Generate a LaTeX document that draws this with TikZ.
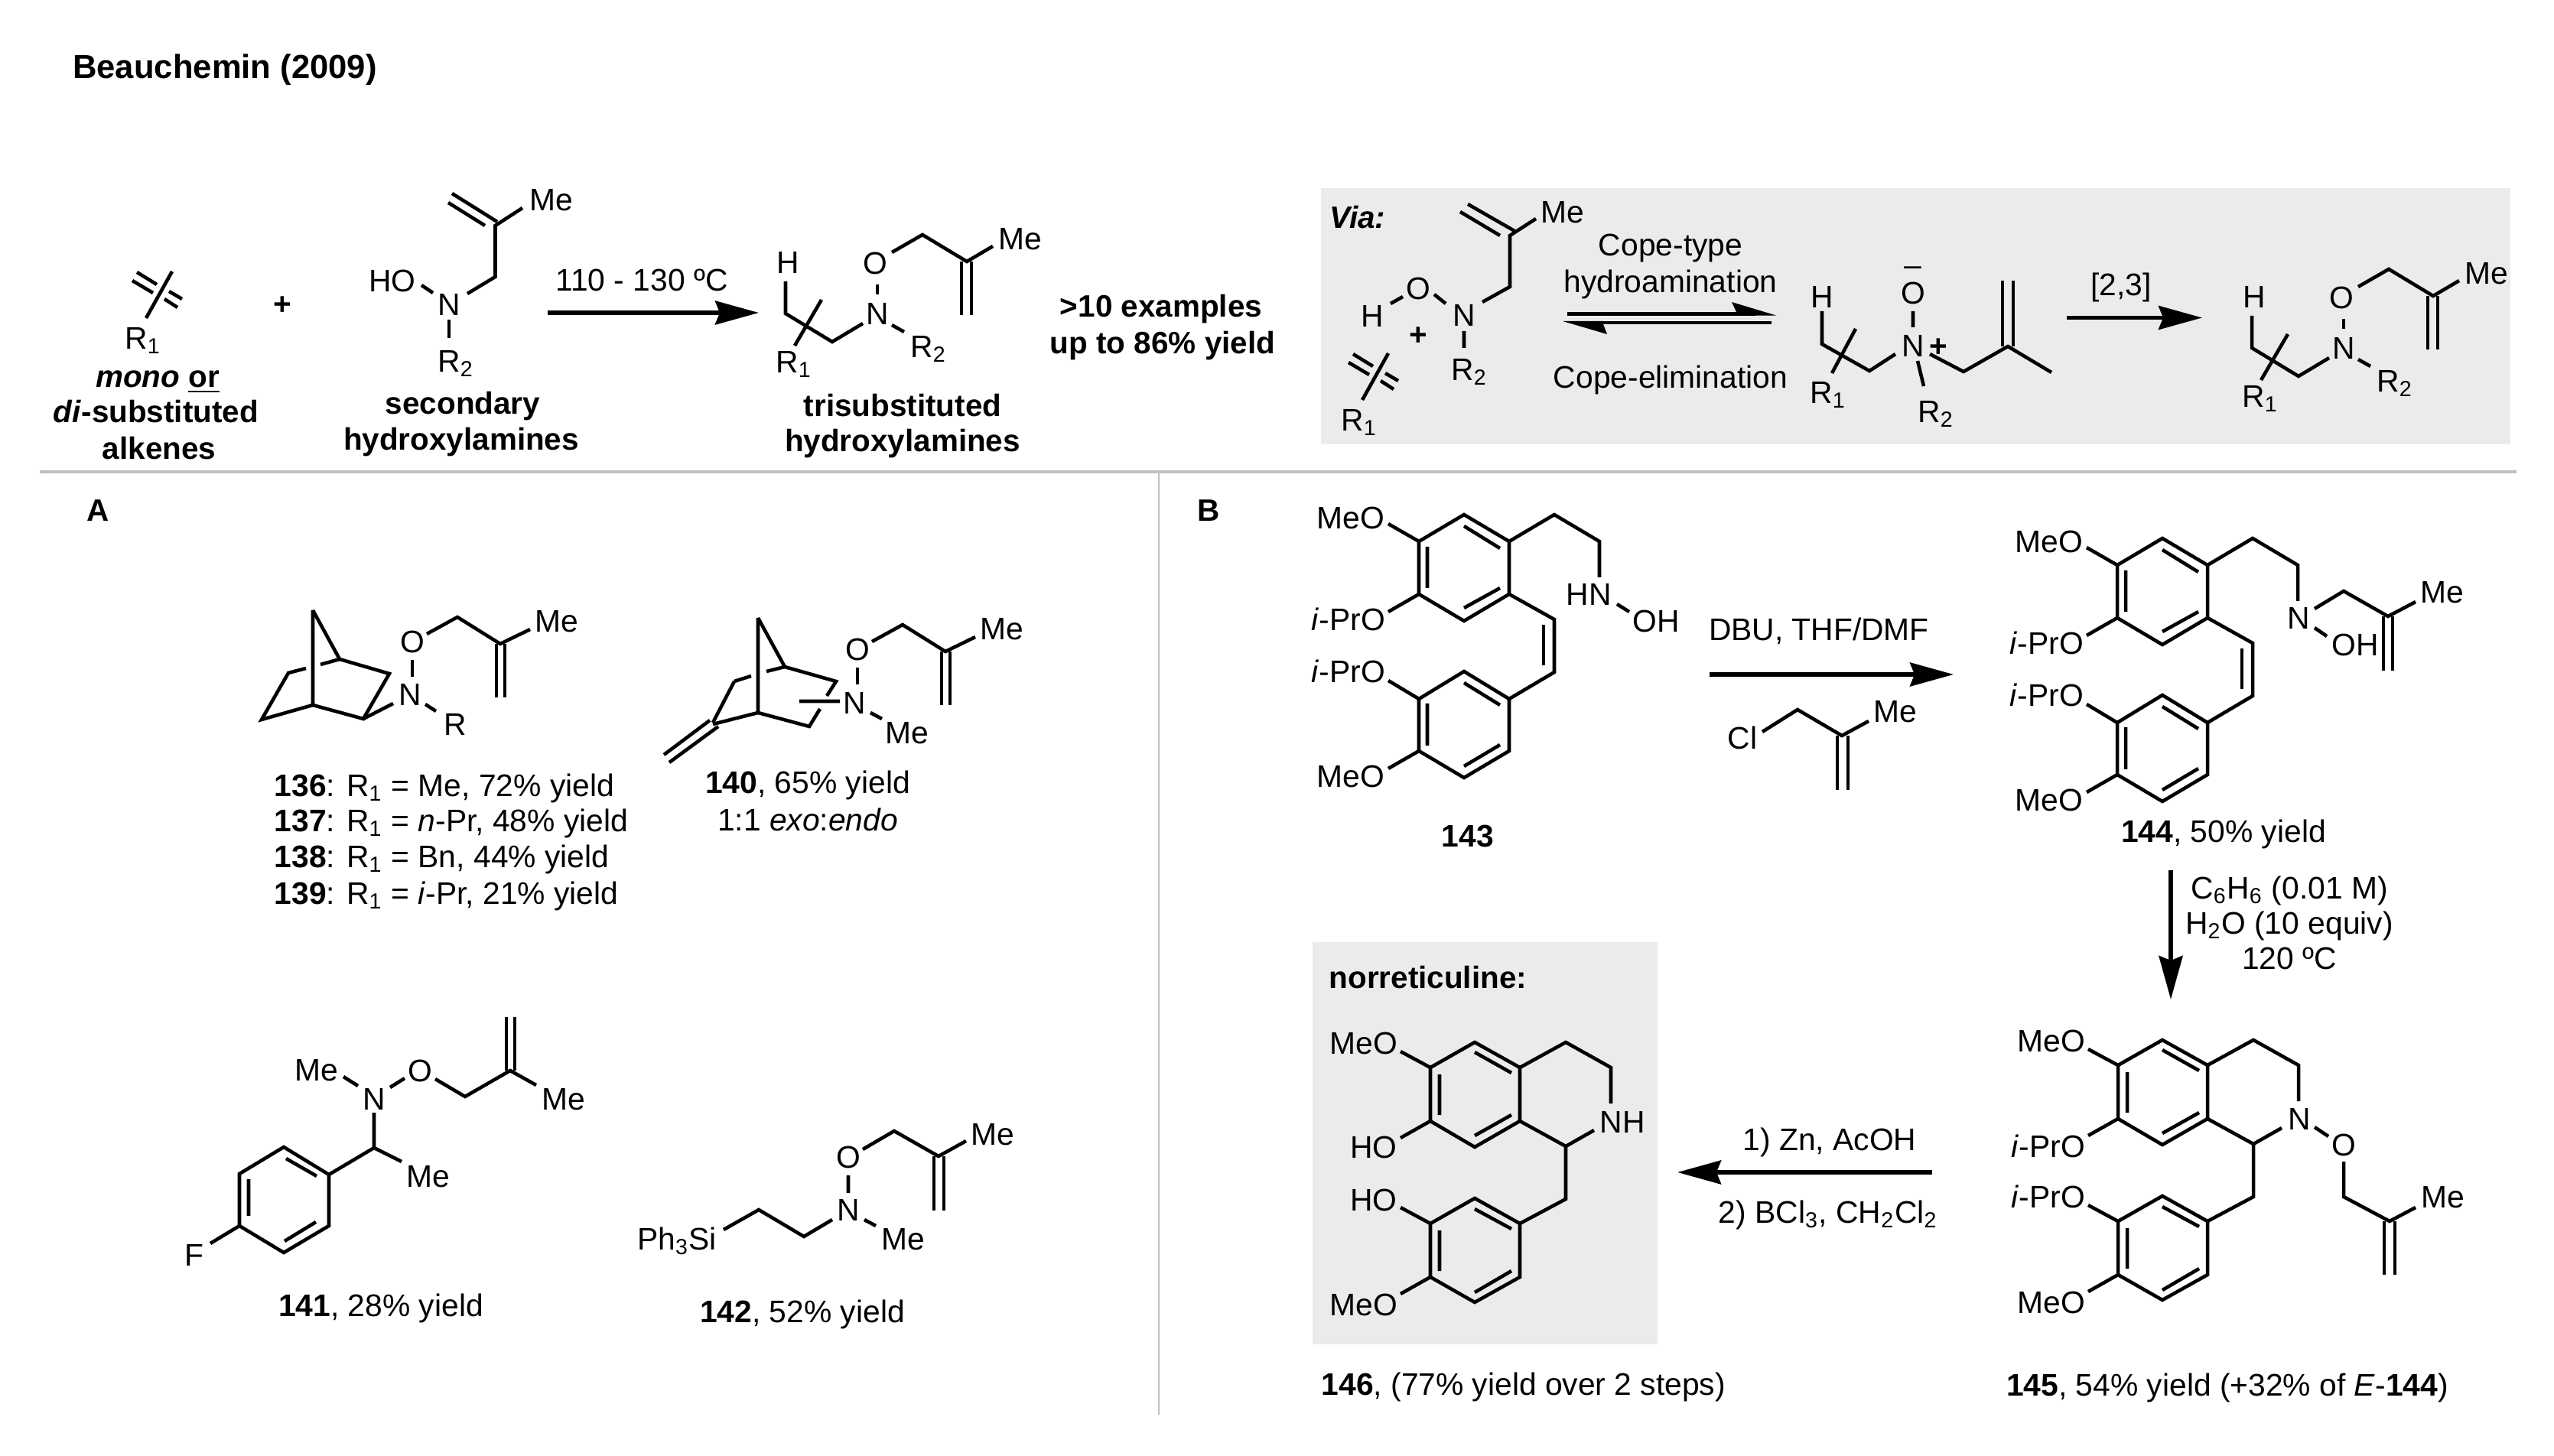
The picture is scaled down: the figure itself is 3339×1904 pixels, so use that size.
\documentclass[tikz,border=0pt]{standalone}
\usepackage{fontspec}
\setmainfont{Liberation Sans}
\usetikzlibrary{arrows.meta}
\definecolor{panelgray}{HTML}{EBEBEB}
\definecolor{rulegray}{HTML}{BFBFBF}
\tikzset{
    bond/.style={line width=1.3pt},
    lab/.style={inner sep=0pt, text height=8.3pt, text depth=0pt, font=\fontsize{11.6}{14}\selectfont},
    captxt/.style={inner sep=0pt, text height=8.3pt, text depth=0pt, font=\fontsize{11.5}{14}\selectfont},
    rxn/.style={line width=1.5pt, -{Stealth[length=16.2pt,width=8.8pt,inset=1.7pt]}},
}
% alkene with crossing bond
\newcommand{\crossalkene}{
    \draw[bond] (225,355) -- (191,416);
    \draw[bond] (179,356) -- (205,372) (173,367) -- (200,383);
    \draw[bond] (221,381) -- (238,391) (215,391) -- (232,402);
    \node[lab] (rone) at (187,442) {R\textsubscript{1}};
}
% trisubstituted hydroxylamine
\newcommand{\trisub}{
    \node[lab] (h) at (1030,343) {H};
    \node[lab] (n) at (1147,410) {N};
    \node[lab] (o) at (1144,344) {O};
    \node[lab] (me) at (1334,312) {Me};
    \node[lab] (rone) at (1038,473) {R\textsubscript{1}};
    \node[lab] (rtwo) at (1214,453) {R\textsubscript{2}};
    \draw[bond] (1027,368) -- (1027,410) -- (1088,447) -- (1128,423);
    \draw[bond] (1074,392) -- (1039,452);
    \draw[bond] (1147,372) -- (1147,385);
    \draw[bond] (1166,330) -- (1206,307) -- (1264,342) -- (1298,322);
    \draw[bond] (1257,342) -- (1257,412) (1270,342) -- (1270,412);
    \draw[bond] (1166,425) -- (1182,434);
}
% O-methallyl on the norbornane
\newcommand{\oallyl}{
    \node[lab] (o) at (539,839) {O};
    \node[lab] (me) at (728,812) {Me};
    \draw[bond] (539,863) -- (539,885);
    \draw[bond] (558,829) -- (598,807) -- (654,842) -- (693,823);
    \draw[bond] (649,842) -- (649,912) (660,842) -- (660,912);
}
% stilbene part of 143 and 144
\newcommand{\stilbene}{
    \draw[bond] (1914,673) -- (1973,708) -- (1973,777) -- (1914,812) -- (1855,777) -- (1855,708) -- cycle;
    \draw[bond] (1914,688) -- (1961,717) (1866,715) -- (1866,769) (1914,795) -- (1961,769);
    \draw[bond] (1973,708) -- (2032,673) -- (2091,708) -- (2091,755);
    \draw[bond] (1973,777) -- (2032,810) -- (2032,879) -- (1973,914);
    \draw[bond] (2018,817) -- (2018,870);
    \draw[bond] (1914,878) -- (1973,914) -- (1973,982) -- (1914,1017) -- (1855,982) -- (1855,914) -- cycle;
    \draw[bond] (1914,893) -- (1961,922) (1866,920) -- (1866,975) (1914,1002) -- (1961,974);
    \draw[bond] (1815,685) -- (1855,708) (1815,800) -- (1855,777);
    \draw[bond] (1815,890) -- (1855,914) (1815,1005) -- (1855,982);
    \node[lab] (meotop) at (1766,677) {MeO};
    \node[lab] (ipra) at (1763,810) {\textit{i}-PrO};
    \node[lab] (iprb) at (1763,878) {\textit{i}-PrO};
    \node[lab] (meobot) at (1766,1015) {MeO};
}
% benzylisoquinoline part of 145 and 146
\newcommand{\isoq}{
    \draw[bond] (2827,1360) -- (2886,1393) -- (2886,1463) -- (2827,1497) -- (2769,1463) -- (2769,1393) -- cycle;
    \draw[bond] (2827,1373) -- (2875,1400) (2781,1402) -- (2781,1455) (2827,1482) -- (2875,1455);
    \draw[bond] (2886,1393) -- (2946,1360) -- (3005,1393) -- (3005,1440);
    \draw[bond] (2886,1463) -- (2946,1496) -- (2983,1475);
    \draw[bond] (2946,1496) -- (2946,1565) -- (2886,1597);
    \draw[bond] (2827,1564) -- (2886,1597) -- (2886,1667) -- (2827,1700) -- (2769,1667) -- (2769,1597) -- cycle;
    \draw[bond] (2827,1578) -- (2875,1604) (2781,1606) -- (2781,1659) (2827,1687) -- (2875,1659);
    \draw[bond] (2730,1372) -- (2769,1393) (2730,1485) -- (2769,1463);
    \draw[bond] (2730,1576) -- (2769,1597) (2730,1689) -- (2769,1667);
    \node[lab] (meotop) at (2682,1361) {MeO};
    \node[lab] (meobot) at (2682,1703) {MeO};
}
\begin{document}
\begin{tikzpicture}[x=0.01cm,y=-0.01cm]
    \useasboundingbox (0,0) rectangle (3339,1904);
    \fill[white] (0,0) rectangle (3339,1904);
    \node[captxt] (title) at (294,88) {\fontsize{12.4}{14}\selectfont\textbf{Beauchemin (2009)}};

    % panels and rules
    \fill[panelgray] (1727,246) rectangle (3282,581);
    \fill[panelgray] (1716,1232) rectangle (2167,1758);
    \draw[rulegray,line width=1.3pt] (52,617) -- (3290,617);
    \draw[rulegray,line width=0.8pt] (1515,617) -- (1515,1850);

    % top reaction
    \crossalkene
    \node[captxt] (plus) at (369,397) {\textbf{+}};
    \node[lab] (meA) at (721,261) {Me};
    \node[lab] (hoA) at (513,367) {HO};
    \node[lab] (nA) at (587,398) {N};
    \node[lab] (rtwoA) at (596,472) {R\textsubscript{2}};
    \draw[bond] (650,290) -- (591,253) (634,295) -- (586,265);
    \draw[bond] (683,272) -- (647.5,295) -- (647.5,362) -- (611,384);
    \draw[bond] (551,373) -- (566,383);
    \draw[bond] (587,418) -- (587,442);
    \coordinate (topS) at (716,409);
    \coordinate (topE) at (992,409);
    \draw[rxn] (topS) -- (topE);
    \node[lab] (temp) at (839,366) {110 - 130 ºC};
    \trisub
    \node[captxt] (ex) at (1518,400) {\textbf{>10 examples}};
    \node[captxt] (up) at (1520,448) {\textbf{up to 86\% yield}};
    % captions of the top line
    \node[captxt] (monoor) at (206,492) {\textbf{\textit{mono} \underline{or}}};
    \node[captxt] (disub) at (204,538) {\textbf{\textit{di}-substituted}};
    \node[captxt] (alk) at (208,586) {\textbf{alkenes}};
    \node[captxt] (sec) at (605,527) {\textbf{secondary}};
    \node[captxt] (hydA) at (603,574) {\textbf{hydroxylamines}};
    \node[captxt] (tri) at (1180,530) {\textbf{trisubstituted}};
    \node[captxt] (hydB) at (1180,576) {\textbf{hydroxylamines}};

    % via panel
    \node[captxt] (via) at (1775,284) {\textbf{\textit{Via:}}};
    \begin{scope}[shift={(1590,107)},name prefix=via-]
        \crossalkene
    \end{scope}
    \node[lab] (meV) at (2043,277) {Me};
    \node[lab] (oV) at (1854,377) {O};
    \node[lab] (hV) at (1794,413) {H};
    \node[lab] (nV) at (1914,412) {N};
    \node[lab] (rtwoV) at (1921,483) {R\textsubscript{2}};
    \node[captxt] (plusV) at (1854,437) {\textbf{+}};
    \draw[bond] (1980,302) -- (1919,267) (1961,308) -- (1909,277);
    \draw[bond] (2008,286) -- (1974,308) -- (1974,375) -- (1938,395);
    \draw[bond] (1818,397) -- (1834,388) (1875,385) -- (1890,397) (1914,433) -- (1914,455);
    \node[lab] (cope) at (2184,320) {Cope-type};
    \node[lab] (hydroam) at (2184,368) {hydroamination};
    \node[lab] (copeel) at (2184,493) {Cope-elimination};
    % equilibrium arrows
    \draw[line width=1.5pt] (2049,410.5) -- (2280,410.5);
    \fill (2322,412.5) -- (2264,395) -- (2270,408) -- (2270,413) -- cycle;
    \draw[line width=1.2pt] (2085,422) -- (2316,422);
    \fill (2043,420) -- (2101,437) -- (2096,424) -- (2096,420) -- cycle;
    % middle intermediate
    \node[lab] (hM) at (2382,388) {H};
    \node[lab] (minusM) at (2501,346) {--};
    \node[lab] (oM) at (2501,383) {O};
    \node[lab] (nM) at (2501,452) {N};
    \node[captxt] (plusM) at (2534,452) {\textbf{+}};
    \node[lab] (roneM) at (2390,513) {R\textsubscript{1}};
    \node[lab] (rtwoM) at (2531,538) {R\textsubscript{2}};
    \draw[bond] (2382,407) -- (2382,450) -- (2444,485) -- (2478,463);
    \draw[bond] (2426,430) -- (2395,488);
    \draw[bond] (2501,407) -- (2501,428) (2507,472) -- (2515,505);
    \draw[bond] (2523,463) -- (2567,486) -- (2625,453) -- (2682,487);
    \draw[bond] (2618,453) -- (2618,367) (2632,453) -- (2632,367);
    \node[lab] (sig) at (2773,372) {[2,3]};
    \coordinate (sigS) at (2702,415.5);
    \coordinate (sigE) at (2879,415.5);
    \draw[rxn] (sigS) -- (sigE);
    \begin{scope}[shift={(1917,45)},name prefix=prod-]
        \trisub
    \end{scope}

    % section A
    \node[captxt] (secA) at (128,667) {\textbf{A}};
    % 136
    \draw[bond] (409,798) -- (409,922) -- (342,941) -- (377,880) -- (400,874);
    \draw[bond] (419,869) -- (444,862);
    \draw[bond] (409,798) -- (444,862) -- (509,881) -- (475,940) -- (409,922);
    \draw[bond] (475,940) -- (514,920) (556,921) -- (570,930);
    \node[lab] (nAa) at (536,908) {N};
    \node[lab] (rAa) at (595,947) {R};
    \oallyl
    \node[lab,anchor=west] (tA) at (358,1027) {\textbf{136}: R\textsubscript{1} = Me, 72\% yield};
    \node[lab,anchor=west] (tB) at (358,1073) {\textbf{137}: R\textsubscript{1} = \textit{n}-Pr, 48\% yield};
    \node[lab,anchor=west] (tC) at (358,1120) {\textbf{138}: R\textsubscript{1} = Bn, 44\% yield};
    \node[lab,anchor=west] (tD) at (358,1168) {\textbf{139}: R\textsubscript{1} = \textit{i}-Pr, 21\% yield};
    % 140
    \begin{scope}[shift={(582,10)},name prefix=ab-]
        \oallyl
    \end{scope}
    \draw[bond] (991,808) -- (991,932) -- (932,947);
    \draw[bond] (991,808) -- (1026,872) -- (1093,891) -- (1081,910);
    \draw[bond] (1072,927) -- (1058,950) -- (991,932);
    \draw[bond] (960,891) -- (982,884) (1002,878) -- (1026,872);
    \draw[bond] (960,891) -- (932,945);
    \draw[bond] (928,942) -- (868,987) (939,950) -- (875,997);
    \draw[bond] (1045,917) -- (1098,917) (1138,932) -- (1153,940);
    \node[lab] (nAb) at (1117,919) {N};
    \node[lab] (meAb) at (1186,958) {Me};
    \node[lab] (tE) at (1056,1023) {\textbf{140}, 65\% yield};
    \node[lab] (tF) at (1056,1072) {1:1 \textit{exo}:\textit{endo}};
    % 141
    \node[lab] (meE) at (414,1399) {Me};
    \node[lab] (nE) at (489,1437) {N};
    \node[lab] (oE) at (549,1400) {O};
    \node[lab] (meF) at (737,1437) {Me};
    \node[lab] (meG) at (560,1538) {Me};
    \node[lab] (fE) at (254,1641) {F};
    \draw[bond] (569,1411) -- (608,1434) -- (667,1400) -- (701,1419);
    \draw[bond] (662,1400) -- (662,1330) (673,1400) -- (673,1330);
    \draw[bond] (529,1410) -- (510,1422) (449,1408) -- (468,1420);
    \draw[bond] (489,1455) -- (489,1501) -- (525,1519) (489,1501) -- (430,1536);
    \draw[bond] (430,1536) -- (371,1500) -- (313,1535) -- (313,1603) -- (371,1638) -- (430,1603) -- cycle;
    \draw[bond] (374,1515) -- (414,1538) (325,1542) -- (325,1590) (372,1623) -- (413,1598);
    \draw[bond] (313,1603) -- (275,1626);
    \node[lab] (tG) at (498,1707) {\textbf{141}, 28\% yield};
    % 142
    \node[lab] (siH) at (885,1620) {Ph\textsubscript{3}Si};
    \node[lab] (nH) at (1109,1582) {N};
    \node[lab] (oH) at (1109,1513) {O};
    \node[lab] (meH) at (1298,1483) {Me};
    \node[lab] (meI) at (1181,1620) {Me};
    \draw[bond] (946,1608) -- (992,1582) -- (1051,1617) -- (1088,1595);
    \draw[bond] (1109,1537) -- (1109,1560) (1130,1595) -- (1145,1603);
    \draw[bond] (1128,1503) -- (1169,1479) -- (1227,1512) -- (1263,1492);
    \draw[bond] (1221,1512) -- (1221,1583) (1234,1512) -- (1234,1583);
    \node[lab] (tH) at (1049,1715) {\textbf{142}, 52\% yield};

    % section B
    \node[captxt] (secB) at (1580,667) {\textbf{B}};
    % 143
    \stilbene
    \node[lab] (hnJ) at (2077,777) {HN};
    \node[lab] (ohJ) at (2165,812) {OH};
    \draw[bond] (2114,790) -- (2130,800);
    \node[lab] (tJ) at (1919,1093) {\textbf{143}};
    % reagents to 144
    \node[lab] (dbu) at (2378,823) {DBU, THF/DMF};
    \coordinate (dbuS) at (2235,882);
    \coordinate (dbuE) at (2554,882);
    \draw[rxn] (dbuS) -- (dbuE);
    \node[lab] (clK) at (2278,965) {Cl};
    \node[lab] (meK) at (2478,930) {Me};
    \draw[bond] (2304,957) -- (2350,928) -- (2408,962) -- (2443,943);
    \draw[bond] (2402,962) -- (2402,1033) (2416,962) -- (2416,1033);
    % 144
    \begin{scope}[shift={(913,31)},name prefix=sb-]
        \stilbene
    \end{scope}
    \node[lab] (nL) at (3005,808) {N};
    \node[lab] (ohL) at (3079,843) {OH};
    \node[lab] (meL) at (3193,774) {Me};
    \draw[bond] (3026,796) -- (3064,773) -- (3122,806) -- (3158,787);
    \draw[bond] (3116,806) -- (3116,877) (3128,806) -- (3128,877);
    \draw[bond] (3026,821) -- (3042,832);
    \node[lab] (tL) at (2907,1087) {\textbf{144}, 50\% yield};
    % reagents to 145
    \coordinate (vS) at (2838,1138);
    \coordinate (vE) at (2838,1307);
    \draw[rxn] (vS) -- (vE);
    \node[lab] (rgA) at (2993,1161) {C\textsubscript{6}H\textsubscript{6} (0.01 M)};
    \node[lab] (rgB) at (2993,1207) {H\textsubscript{2}O (10 equiv)};
    \node[lab] (rgC) at (2993,1253) {120 ºC};
    % 145
    \isoq
    \node[lab] (ipM) at (2678,1499) {\textit{i}-PrO};
    \node[lab] (ipN) at (2678,1565) {\textit{i}-PrO};
    \node[lab] (nM) at (3006,1463) {N};
    \node[lab] (oN) at (3064,1497) {O};
    \node[lab] (meN) at (3194,1565) {Me};
    \draw[bond] (3026,1474) -- (3044,1486);
    \draw[bond] (3064,1519) -- (3064,1565) -- (3124,1597) -- (3158,1579);
    \draw[bond] (3117,1597) -- (3117,1667) (3131,1597) -- (3131,1667);
    \node[lab] (tM) at (2912,1811) {\textbf{145}, 54\% yield (+32\% of \textit{E}-\textbf{144})};
    % 146
    \coordinate (znS) at (2526,1533);
    \coordinate (znE) at (2193,1533);
    \draw[rxn] (znS) -- (znE);
    \node[lab] (znA) at (2392,1490) {1) Zn, AcOH};
    \node[lab] (znB) at (2390,1585) {2) BCl\textsubscript{3}, CH\textsubscript{2}Cl\textsubscript{2}};
    \begin{scope}[shift={(-899,3)},name prefix=nor-]
        \isoq
    \end{scope}
    \node[captxt,anchor=west] (nor) at (1737,1278) {\textbf{norreticuline:}};
    \node[lab] (hoP) at (1796,1500) {HO};
    \node[lab] (hoQ) at (1796,1569) {HO};
    \node[lab] (nhP) at (2121,1467) {NH};
    \node[lab,anchor=west] (tP) at (1727,1810) {\textbf{146}, (77\% yield over 2 steps)};
\end{tikzpicture}
\end{document}
